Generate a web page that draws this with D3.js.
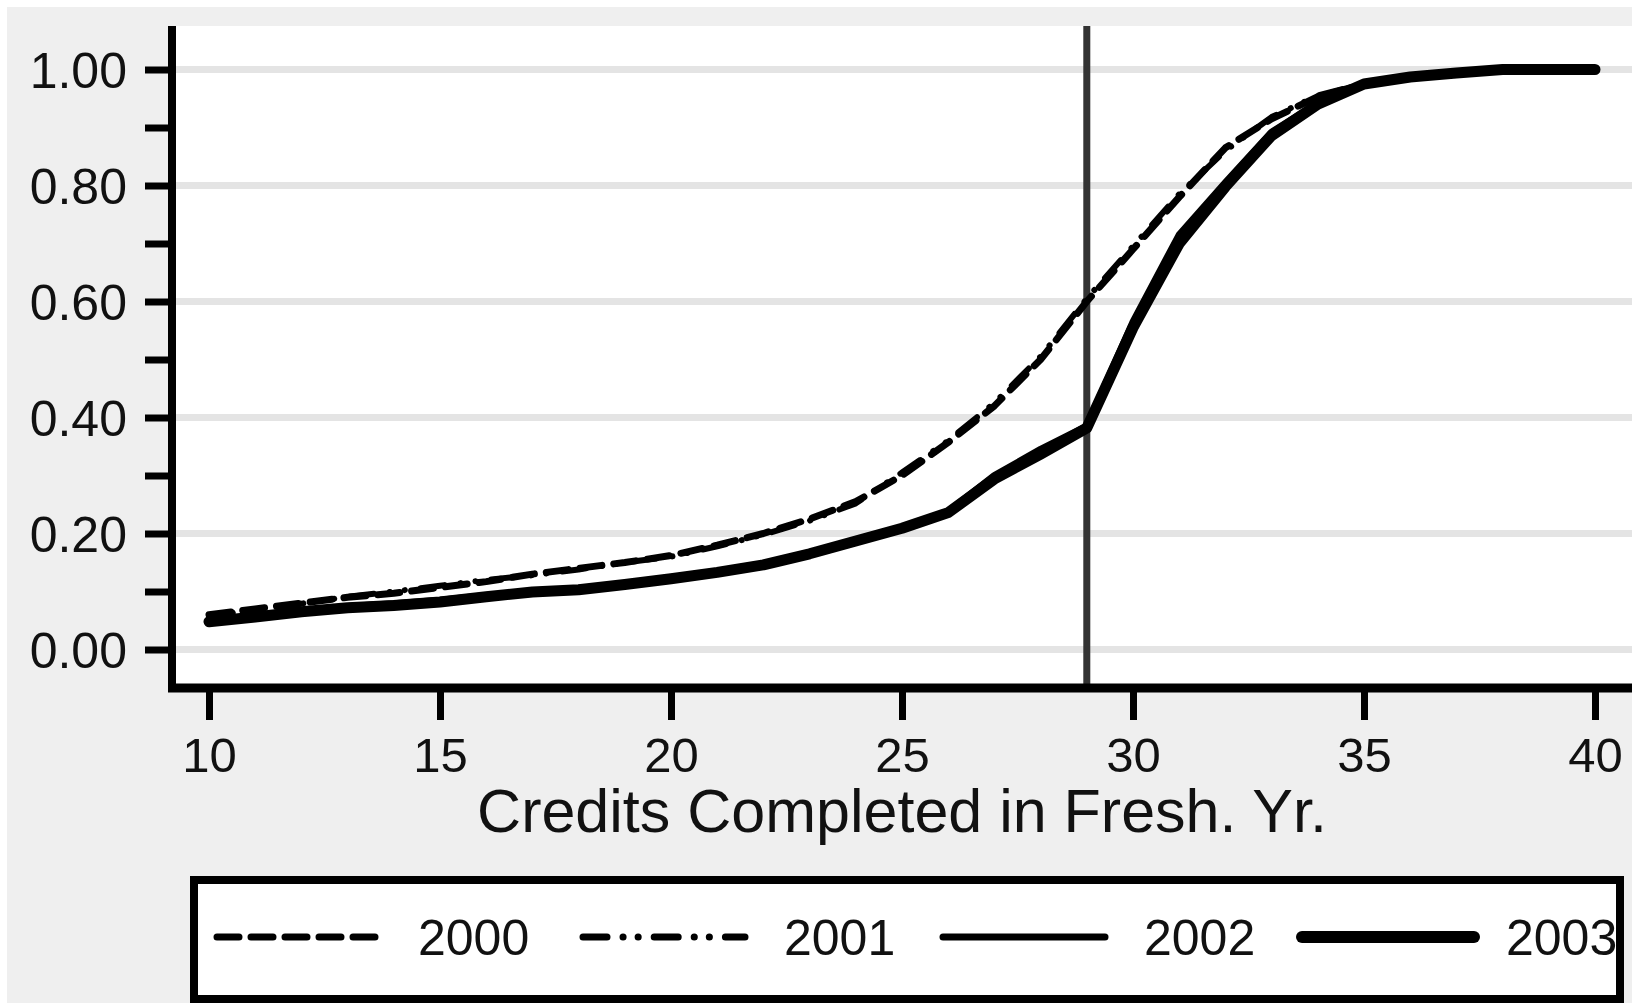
<!DOCTYPE html>
<meta charset="utf-8">
<title>Credits Completed in Fresh. Yr.</title>
<style>
body { margin: 0; background: #fff; }
text { font-family: "Liberation Sans", Arial, sans-serif; fill: #111; }
</style>
<body>
<svg></svg>
</body>
<script src="https://d3js.org/d3.v7.min.js"></script>
<script>

var width = 1632,
    height = 1003;

// credits completed (x) and cumulative share for each cohort
var credits = d3.range(10, 41);
var y2000 = [0.060, 0.070, 0.080, 0.090, 0.097, 0.107, 0.117, 0.130, 0.140, 0.150,
             0.162, 0.180, 0.200, 0.225, 0.255, 0.300, 0.357, 0.420, 0.500, 0.600,
             0.690, 0.780, 0.865, 0.915, 0.953, 0.975, 0.987, 0.993, 1.000, 1.000, 1.000];
var y2001 = [0.058, 0.068, 0.079, 0.091, 0.100, 0.110, 0.120, 0.128, 0.138, 0.150,
             0.160, 0.178, 0.198, 0.222, 0.252, 0.305, 0.360, 0.425, 0.505, 0.605,
             0.695, 0.785, 0.860, 0.918, 0.955, 0.976, 0.987, 0.993, 1.000, 1.000, 1.000];
var y2002 = [0.050, 0.058, 0.067, 0.074, 0.079, 0.085, 0.093, 0.100, 0.105, 0.114,
             0.124, 0.135, 0.148, 0.167, 0.189, 0.211, 0.238, 0.300, 0.345, 0.385,
             0.565, 0.715, 0.805, 0.892, 0.942, 0.976, 0.987, 0.994, 1.000, 1.000, 1.000];
var y2003 = [0.048, 0.056, 0.065, 0.072, 0.076, 0.082, 0.091, 0.099, 0.103, 0.112,
             0.122, 0.133, 0.146, 0.165, 0.187, 0.209, 0.236, 0.294, 0.337, 0.382,
             0.555, 0.700, 0.798, 0.886, 0.940, 0.975, 0.987, 0.994, 1.000, 1.000, 1.000];

var series = [
    {name: "2000", values: y2000, width: 7, dash: "22,12"},
    {name: "2001", values: y2001, width: 6, dash: "24,16,0.1,15,0.1,16"},
    {name: "2002", values: y2002, width: 7, dash: null},
    {name: "2003", values: y2003, width: 11, dash: null}
];

var yMajor = [0, 0.2, 0.4, 0.6, 0.8, 1.0];
var yTicks = d3.range(0, 11).map(d => d / 10);
var xTicks = [10, 15, 20, 25, 30, 35, 40];
var cutoff = 29;

var svg = d3.select("svg").attr("width", width).attr("height", height);

var x = d3.scaleLinear().domain([10, 40]).range([209, 1595]),
    y = d3.scaleLinear().domain([0, 1]).range([649.5, 69.5]);

// backgrounds
svg.append("rect").attr("x", 7).attr("y", 7).attr("width", width).attr("height", height).attr("fill", "#efefef");
svg.append("rect").attr("x", 176).attr("y", 26).attr("width", width).attr("height", 658).attr("fill", "#fff");

// grid
svg.append("g").selectAll("line")
    .data(yMajor)
    .enter().append("line")
    .attr("x1", 176).attr("x2", width)
    .attr("y1", d => y(d)).attr("y2", d => y(d))
    .attr("stroke", "#e4e4e4").attr("stroke-width", 7);

// cutoff line
svg.append("line")
    .attr("x1", x(cutoff)).attr("x2", x(cutoff))
    .attr("y1", 26).attr("y2", 684)
    .attr("stroke", "#333").attr("stroke-width", 7);

// curves
var line = d3.line().x((d, i) => x(credits[i])).y(d => y(d));
svg.append("g").selectAll("path")
    .data(series)
    .enter().append("path")
    .attr("d", d => line(d.values))
    .attr("fill", "none")
    .attr("stroke", "#000")
    .attr("stroke-width", d => d.width)
    .attr("stroke-linejoin", "round")
    .attr("stroke-linecap", "round")
    .attr("stroke-dasharray", d => d.dash);

// y axis
var yAxis = svg.append("g")
    .attr("transform", "translate(172,0)")
    .call(d3.axisLeft(y).tickValues(yTicks).tickSize(27).tickSizeOuter(0)
        .tickFormat(d => yMajor.some(m => Math.abs(m - d) < 1e-9) ? d3.format(".2f")(d) : ""));
yAxis.select(".domain").remove();
yAxis.selectAll(".tick line").attr("stroke", "#000").attr("stroke-width", 7);
yAxis.selectAll(".tick text")
    .attr("x", -45).attr("dy", "0.36em")
    .style("font-size", "50px").attr("fill", "#111");

// x axis
var xAxis = svg.append("g")
    .attr("transform", "translate(0,688)")
    .call(d3.axisBottom(x).tickValues(xTicks).tickSize(32).tickSizeOuter(0));
xAxis.select(".domain").remove();
xAxis.selectAll(".tick line").attr("stroke", "#000").attr("stroke-width", 7);
xAxis.selectAll(".tick text")
    .attr("y", 84).attr("dy", 0)
    .style("font-size", "49px").attr("fill", "#111");

// axis lines
svg.append("line").attr("x1", 172).attr("x2", 172).attr("y1", 26).attr("y2", 692)
    .attr("stroke", "#000").attr("stroke-width", 8);
svg.append("line").attr("x1", 168).attr("x2", width).attr("y1", 688).attr("y2", 688)
    .attr("stroke", "#000").attr("stroke-width", 9);

// axis title
svg.append("text")
    .attr("x", (x(10) + x(40)) / 2).attr("y", 832)
    .attr("text-anchor", "middle")
    .style("font-size", "61px")
    .text("Credits Completed in Fresh. Yr.");

// legend
svg.append("rect")
    .attr("x", 194).attr("y", 880).attr("width", 1426).attr("height", 119)
    .attr("fill", "#fff").attr("stroke", "#000").attr("stroke-width", 8);

var legendX = [217, 583, 943, 1302];
var leg = svg.append("g").selectAll("g")
    .data(series)
    .enter().append("g")
    .attr("transform", (d, i) => "translate(" + legendX[i] + ",937)");
leg.append("line")
    .attr("x1", 0).attr("x2", d => d.name == "2003" ? 172 : 162)
    .attr("stroke", "#000")
    .attr("stroke-width", d => d.name == "2003" ? 12 : 7)
    .attr("stroke-linecap", "round")
    .attr("stroke-dasharray", d => d.dash);
leg.append("text")
    .attr("x", d => d.name == "2003" ? 204 : 201).attr("y", 18)
    .style("font-size", "50px")
    .text(d => d.name);

</script>
